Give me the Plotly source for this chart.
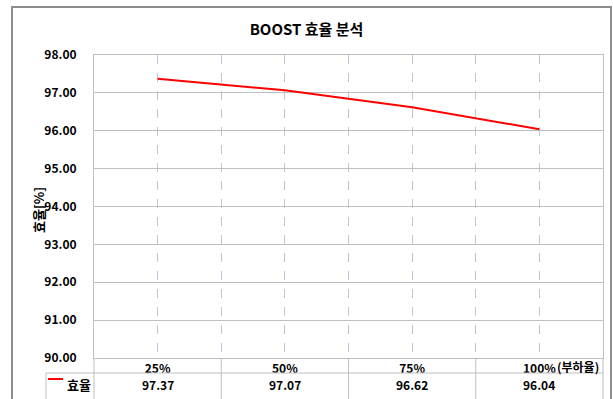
import plotly.graph_objects as go

# Load-ratio categories and measured BOOST converter efficiency
categories = ["25%", "50%", "75%", "100%"]
efficiency = [97.37, 97.07, 96.62, 96.04]
series_name = "효율"
y_ticks = [90, 91, 92, 93, 94, 95, 96, 97, 98]

W, H = 613, 399
L, R, T, B = 94, 603, 55, 358  # plot area in pixels

FONT = "Noto Sans CJK KR, Noto Sans, sans-serif"
GRID = "#bfbfbf"
VGRID = "#bcc5d6"


def px_x(p):
    return (p - L) / (R - L)


def px_y(p):
    return (B - p) / (B - T)


xs = list(range(len(categories)))

fig = go.Figure()
fig.add_trace(go.Scatter(
    x=xs, y=efficiency, mode="lines", name=series_name,
    line=dict(color="#ff0000", width=2), showlegend=False,
))

shapes = []
# outer chart frame
shapes.append(dict(type="rect", xref="paper", yref="paper",
                   x0=px_x(12), x1=px_x(611), y0=px_y(410), y1=px_y(7),
                   line=dict(color="#8c8c8c", width=2), layer="below"))
# data table grid below the plot
shapes.append(dict(type="line", xref="paper", yref="paper",
                   x0=px_x(46), x1=px_x(R), y0=px_y(373), y1=px_y(373),
                   line=dict(color=GRID, width=1)))
shapes.append(dict(type="line", xref="paper", yref="paper",
                   x0=px_x(46), x1=px_x(46), y0=px_y(373), y1=px_y(405),
                   line=dict(color=GRID, width=1)))
for xp in (L, R):
    shapes.append(dict(type="line", xref="paper", yref="paper",
                       x0=px_x(xp), x1=px_x(xp), y0=px_y(B), y1=px_y(405),
                       line=dict(color=GRID, width=1)))
for i in range(len(categories) - 1):
    shapes.append(dict(type="line", xref="x", yref="paper",
                       x0=i + 0.5, x1=i + 0.5, y0=px_y(B), y1=px_y(405),
                       line=dict(color=GRID, width=1)))
# legend key in the table
shapes.append(dict(type="line", xref="paper", yref="paper",
                   x0=px_x(48), x1=px_x(63), y0=px_y(379), y1=px_y(379),
                   line=dict(color="#ff0000", width=2)))

annotations = []
for i, v in enumerate(efficiency):
    annotations.append(dict(x=i, xref="x", y=px_y(384), yref="paper",
                            text=f"<b>{v:.2f}</b>", showarrow=False,
                            font=dict(family=FONT, size=12, color="#000000"),
                            xanchor="center", yanchor="middle"))
annotations.append(dict(x=px_x(65), xref="paper", y=px_y(384), yref="paper",
                        text=f"<b>{series_name}</b>", showarrow=False,
                        font=dict(family=FONT, size=13, color="#000000"),
                        xanchor="left", yanchor="middle"))
annotations.append(dict(x=px_x(601), xref="paper", y=px_y(366), yref="paper",
                        text="<b>(부하율)</b>", showarrow=False,
                        font=dict(family=FONT, size=12, color="#000000"),
                        xanchor="right", yanchor="middle"))
annotations.append(dict(x=px_x(38), xref="paper", y=px_y(210), yref="paper",
                        text="<b>효율[%]</b>", showarrow=False, textangle=-90,
                        font=dict(family=FONT, size=13, color="#000000"),
                        xanchor="center", yanchor="middle"))

fig.update_layout(
    width=W, height=H,
    margin=dict(l=L, r=W - R, t=T, b=H - B),
    paper_bgcolor="#ffffff", plot_bgcolor="#ffffff",
    title=dict(text="<b>BOOST 효율 분석</b>", xref="container", x=0.5,
               y=1 - 30 / H, yref="container", xanchor="center", yanchor="middle",
               font=dict(family=FONT, size=15, color="#000000")),
    xaxis=dict(
        range=[-0.5, len(categories) - 0.5],
        tickmode="array", tickvals=xs, ticktext=[f"<b>{c}</b>" for c in categories],
        tickfont=dict(family=FONT, size=12, color="#000000"),
        ticks="", ticklabelstandoff=0,
        showgrid=True, gridcolor=VGRID, griddash="dash", gridwidth=1,
        minor=dict(tickmode="array", tickvals=[i + 0.5 for i in range(len(categories) - 1)],
                   showgrid=True, gridcolor=VGRID, griddash="dash", gridwidth=1, ticks=""),
        showline=True, linecolor=GRID, linewidth=1, mirror=True,
        zeroline=False, fixedrange=True,
    ),
    yaxis=dict(
        range=[90, 98], tickmode="array", tickvals=y_ticks,
        ticktext=[f"<b>{v:.2f}</b>" for v in y_ticks],
        tickfont=dict(family=FONT, size=12, color="#000000"),
        ticks="", ticklabelstandoff=14,
        showgrid=True, gridcolor=GRID, gridwidth=1,
        showline=True, linecolor=GRID, linewidth=1, mirror=True,
        zeroline=False, fixedrange=True,
    ),
    shapes=shapes,
    annotations=annotations,
    showlegend=False,
)

fig.write_html("out.html")
